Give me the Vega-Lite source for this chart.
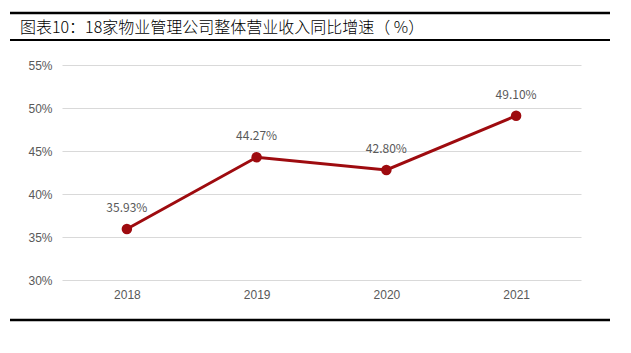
{
  "$schema": "https://vega.github.io/schema/vega-lite/v6.json",
  "autosize": "none",
  "width": 519,
  "height": 215,
  "padding": {"left": 62, "top": 65, "right": 50, "bottom": 73},
  "background": "white",
  "config": {"view": {"stroke": null}, "font": "Liberation Sans"},
  "title": {
    "text": "图表10：18家物业管理公司整体营业收入同比增速（ %）",
    "anchor": "start",
    "frame": "group",
    "font": "Noto Sans CJK SC",
    "fontSize": 16,
    "fontWeight": 300,
    "color": "#000000",
    "dx": -42,
    "offset": -24
  },
  "data": {
    "values": [
      {"year": "2018", "growth": 35.93, "label": "35.93%"},
      {"year": "2019", "growth": 44.27, "label": "44.27%"},
      {"year": "2020", "growth": 42.80, "label": "42.80%"},
      {"year": "2021", "growth": 49.10, "label": "49.10%"}
    ]
  },
  "layer": [
    {
      "mark": {"type": "line", "color": "#9E0B0F", "strokeWidth": 3},
      "encoding": {
        "x": {"field": "year", "type": "ordinal", "scale": {"type": "point", "padding": 0.5},
          "axis": {"title": null, "labelAngle": 0, "domain": false, "ticks": false, "labelColor": "#595959", "labelFontSize": 12, "labelPadding": 9}},
        "y": {"field": "growth", "type": "quantitative", "scale": {"domain": [30, 55], "nice": false, "zero": false},
          "axis": {"title": null, "values": [30, 35, 40, 45, 50, 55], "labelExpr": "datum.value + '%'", "domain": false, "ticks": false, "gridColor": "#d9d9d9", "labelColor": "#595959", "labelFontSize": 12, "labelPadding": 10}}
      }
    },
    {
      "mark": {"type": "point", "filled": true, "color": "#9E0B0F", "size": 110, "opacity": 1},
      "encoding": {
        "x": {"field": "year", "type": "ordinal"},
        "y": {"field": "growth", "type": "quantitative"}
      }
    },
    {
      "mark": {"type": "text", "dy": -21, "color": "#595959", "fontSize": 12, "font": "Noto Sans CJK SC"},
      "encoding": {
        "x": {"field": "year", "type": "ordinal"},
        "y": {"field": "growth", "type": "quantitative"},
        "text": {"field": "label", "type": "nominal"}
      }
    },
    {
      "data": {"values": [{"pos": -52, "w": 2.5}, {"pos": -25, "w": 2}, {"pos": 255, "w": 2.5}]},
      "mark": {"type": "rule", "color": "#000000", "clip": false},
      "encoding": {
        "x": {"value": -52},
        "x2": {"value": 548},
        "y": {"field": "pos", "type": "quantitative", "scale": null},
        "strokeWidth": {"field": "w", "type": "quantitative", "scale": null}
      }
    }
  ]
}
